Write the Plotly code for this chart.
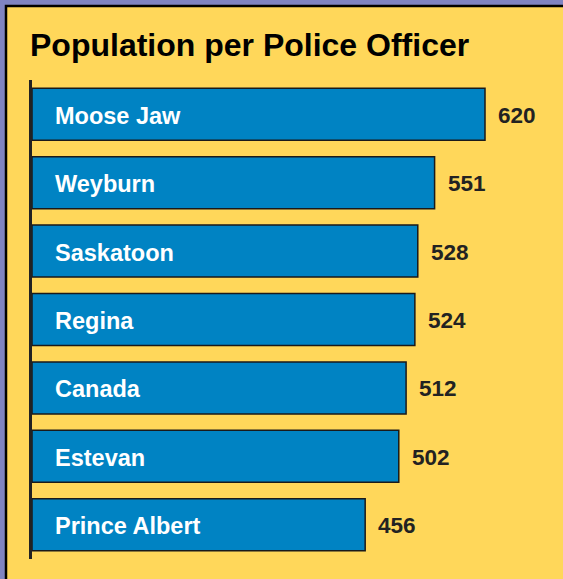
import plotly.graph_objects as go

categories = ["Moose Jaw", "Weyburn", "Saskatoon", "Regina", "Canada", "Estevan", "Prince Albert"]
values = [620, 551, 528, 524, 512, 502, 456]
title_text = "Population per Police Officer"

W, H = 563, 579
FONT = "Liberation Sans, Arial, Helvetica, sans-serif"
BAR = "#0083C3"
YELLOW = "#FFD75A"
PURPLE = "#8084C2"

fig = go.Figure()
fig.add_trace(go.Bar(
    x=values, y=categories, orientation="h",
    marker=dict(color=BAR, line=dict(color="#1a1a1a", width=1.5)),
    hoverinfo="skip",
))

for c, v in zip(categories, values):
    fig.add_annotation(x=0, y=c, xref="x", yref="y", text=f"<b>{c}</b>",
                       showarrow=False, xanchor="left", yanchor="middle",
                       xshift=21, yshift=-1.5,
                       font=dict(family=FONT, size=23.5, color="white"))
    fig.add_annotation(x=v, y=c, xref="x", yref="y", text=f"<b>{v}</b>",
                       showarrow=False, xanchor="left", yanchor="middle",
                       xshift=11, yshift=-1,
                       font=dict(family=FONT, size=22.5, color="#222222"))

fig.add_annotation(x=28 / W, y=1 - 45 / H, xref="paper", yref="paper",
                   text=f"<b>{title_text}</b>", showarrow=False,
                   xanchor="left", yanchor="middle",
                   font=dict(family=FONT, size=32, color="black"))

fig.add_shape(type="rect", xref="paper", yref="paper", layer="below",
              x0=6 / W, x1=1.1, y0=-0.1, y1=1 - 6 / H,
              fillcolor=YELLOW, line=dict(color="black", width=2.5))

scale = (485 - 32) / 620.0
fig.update_layout(
    width=W, height=H,
    margin=dict(l=0, r=0, t=0, b=0),
    paper_bgcolor=PURPLE,
    plot_bgcolor="rgba(0,0,0,0)",
    showlegend=False,
    bargap=0.24,
    xaxis=dict(domain=[32 / W, 1], range=[0, (W - 32) / scale], visible=False,
               fixedrange=True),
    yaxis=dict(domain=[(H - 559) / H, (H - 80) / H], autorange="reversed",
               showline=True, linecolor="#222222", linewidth=3,
               showticklabels=False, ticks="", showgrid=False, zeroline=False,
               fixedrange=True),
)

fig.write_html("out.html")
